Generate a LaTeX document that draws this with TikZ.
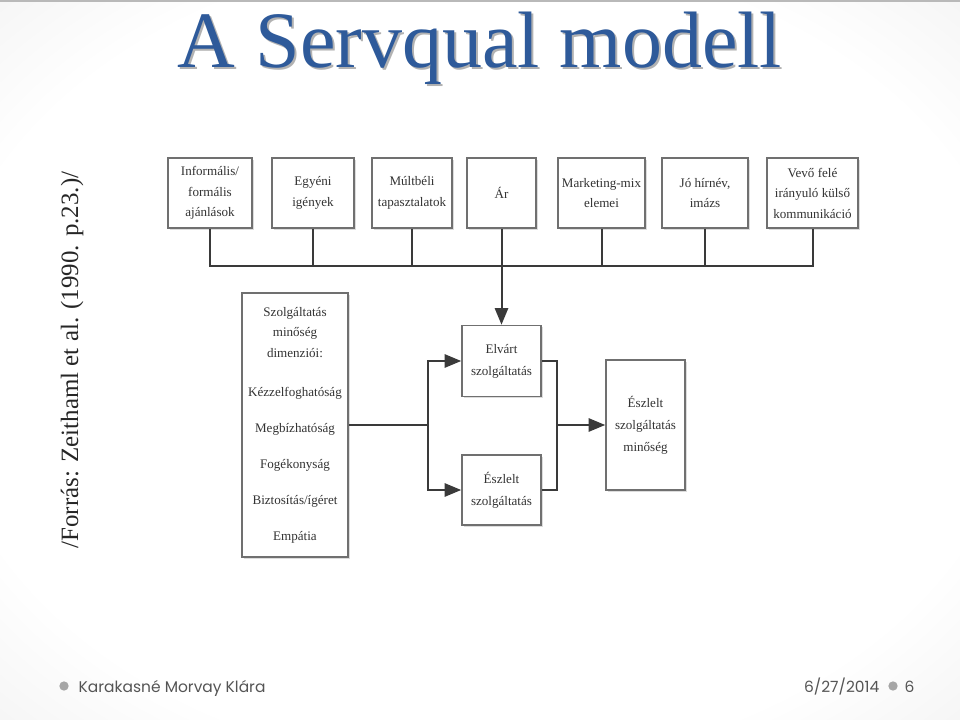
\documentclass[tikz,border=0pt]{standalone}
\usepackage{fontspec}
\setmainfont{Liberation Serif}
\newfontfamily\footfont{Poppins}
\usetikzlibrary{arrows.meta,shadows}
\definecolor{titleblue}{HTML}{2E5A9A}
\definecolor{bgedge}{HTML}{C4C4C4}
\definecolor{boxline}{HTML}{707070}
\definecolor{conn}{HTML}{3A3A3A}
\definecolor{boxtext}{HTML}{333333}
\definecolor{foottext}{HTML}{555555}
\pgfdeclareradialshading{slidebg}{\pgfpoint{0bp}{0bp}}{color(0bp)=(white); color(28bp)=(white); color(75bp)=(bgedge)}
\begin{document}
\begin{tikzpicture}[x=0.75pt,y=-0.75pt,
  boxnode/.style={draw=boxline, line width=1.2pt, fill=white, align=center, inner sep=0pt,
    text=boxtext, font=\fontsize{9.8pt}{15.4pt}\selectfont,
    drop shadow={shadow xshift=1.2pt, shadow yshift=-1.2pt, fill=gray!45, opacity=0.6}},
  conline/.style={draw=conn, line width=1.5pt},
  arr/.style={conline, -{Triangle[length=12.5pt,width=10pt]}},
  bullet/.style={circle, fill=gray!70, inner sep=0pt, minimum size=7pt}
]
\useasboundingbox (0,0) rectangle (960,720);
\shade[shading=slidebg] (0,0) rectangle (960,720);
\fill[gray!55] (0,0) rectangle (960,2);
% title with shadow
\node[anchor=base, inner sep=0pt, font=\fontsize{60pt}{60pt}\selectfont] (title) at (480,68)
 {\rlap{\kern1.5pt\raisebox{-1.5pt}{\textcolor{gray!60}{A Servqual modell}}}\textcolor{titleblue}{A Servqual modell}};
% source
\node[rotate=90, text=black!85, font=\fontsize{18.7pt}{19pt}\selectfont] (source) at (72,360) {/Forrás: Zeithaml et al. (1990. p.23.)/};
% diagram area
\fill[white] (140,133) rectangle (880,567);
% top boxes
\node[boxnode, minimum width=63pt, minimum height=52.5pt] (b1) at (210,193) {Informális/\\formális\\ajánlások};
\node[boxnode, minimum width=61.5pt, minimum height=52.5pt] (b2) at (313,193) {Egyéni\\igények};
\node[boxnode, minimum width=60pt, minimum height=52.5pt] (b3) at (412,193) {Múltbéli\\tapasztalatok};
\node[boxnode, minimum width=51.75pt, minimum height=52.5pt] (b4) at (501.5,193) {Ár};
\node[boxnode, minimum width=65.25pt, minimum height=52.5pt] (b5) at (601.5,193) {Marketing-mix\\elemei};
\node[boxnode, minimum width=64.5pt, minimum height=52.5pt] (b6) at (705,193) {Jó hírnév,\\imázs};
\node[boxnode, minimum width=68.25pt, minimum height=52.5pt] (b7) at (812.5,193) {Vevő felé\\irányuló külső\\kommunikáció};
% dimension box
\node[boxnode, minimum width=79.5pt, minimum height=198pt] (dim) at (295,425)
 {Szolgáltatás\\minőség\\dimenziói:\\[14pt]Kézzelfoghatóság\\[11.6pt]Megbízhatóság\\[11.6pt]Fogékonyság\\[11.6pt]Biztosítás/ígéret\\[11.6pt]Empátia};
% middle boxes
\node[boxnode, minimum width=59.25pt, minimum height=53.25pt, font=\fontsize{9.8pt}{16.5pt}\selectfont] (elv) at (501.5,361) {Elvárt\\szolgáltatás};
\node[boxnode, minimum width=59.25pt, minimum height=52.5pt, font=\fontsize{9.8pt}{16.5pt}\selectfont] (esz) at (501.5,490) {Észlelt\\szolgáltatás};
\node[boxnode, minimum width=59.25pt, minimum height=97.5pt, font=\fontsize{9.8pt}{16.5pt}\selectfont] (perc) at (645.5,425) {Észlelt\\szolgáltatás\\minőség};
% connectors
\coordinate (bus) at (0,266);
\coordinate (jL) at (428,425);
\coordinate (jR) at (557,425);
\draw[conline] (b1.south) -- (b1.south |- bus) -- (b7.south |- bus) -- (b7.south);
\foreach \b in {b2,b3,b4,b5,b6} { \draw[conline] (\b.south) -- (\b.south |- bus); }
\draw[arr] (b4.south |- bus) -- (elv.north);
\draw[conline] (dim.east) -- (jL);
\draw[arr] (jL) |- (elv.west);
\draw[arr] (jL) |- (esz.west);
\draw[conline] (elv.east) -| (jR);
\draw[conline] (esz.east) -| (jR);
\draw[arr] (jR) -- (perc.west);
% footer
\node[bullet] (fb1) at (64,686) {};
\node[anchor=base west, text=foottext, font=\footfont\fontsize{11.6pt}{12pt}\selectfont] (author) at (74,692) {Karakasné Morvay Klára};
\node[anchor=base east, text=foottext, font=\footfont\fontsize{11.6pt}{12pt}\selectfont] (date) at (884,692) {6/27/2014};
\node[bullet] (fb2) at (893,686) {};
\node[anchor=base west, text=foottext, font=\footfont\fontsize{11.6pt}{12pt}\selectfont] (page) at (900,692) {6};
\end{tikzpicture}
\end{document}
